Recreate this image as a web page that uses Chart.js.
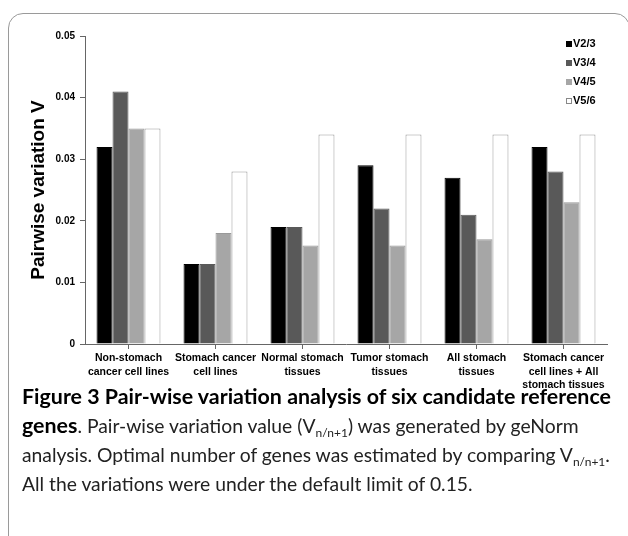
<!DOCTYPE html>
<html>
<head>
<meta charset="utf-8">
<script src="https://cdn.jsdelivr.net/npm/chart.js@4.4.0/dist/chart.umd.min.js"></script>
<style>
  html, body { margin:0; padding:0; background:#fff; }
  body { width:628px; height:536px; position:relative; overflow:hidden; }
  #frame { position:absolute; left:8px; top:13px; width:622px; height:540px; border:1px solid #9a9a9a; border-radius:15px; box-sizing:border-box; }
  #wrap { position:absolute; left:0; top:0; width:628px; height:400px; }
  #legend { position:absolute; left:566px; top:34px; font-family:"Liberation Sans", Arial, sans-serif; font-weight:bold; font-size:11px; color:#000; }
  #legend .item { height:19.1px; line-height:15px; display:flex; align-items:center; }
  #legend .sw { width:6px; height:6px; margin-right:1px; box-sizing:border-box; }
  #caption { position:absolute; left:22px; top:382px; width:606px; font-family:Lato, "Open Sans", sans-serif; color:#222; }
  #caption .l { white-space:nowrap; height:29px; line-height:29px; font-size:19.3px; }
  #caption b { font-weight:bold; font-size:21.4px; color:#000; }
  sub { font-size:12px; vertical-align:-4px; line-height:0; }
</style>
</head>
<body>
<div id="frame"></div>
<div id="wrap"><canvas id="c" width="628" height="400"></canvas></div>
<div id="legend"></div>
<div id="caption">
  <div class="l"><b>Figure 3 Pair-wise variation analysis of six candidate reference</b></div>
  <div class="l"><b>genes</b>. Pair-wise variation value (V<sub>n/n+1</sub>) was generated by geNorm</div>
  <div class="l">analysis. Optimal number of genes was estimated by comparing V<sub>n/n+1</sub>.</div>
  <div class="l">All the variations were under the default limit of 0.15.</div>
</div>
<script>
const categories = [
  ["Non-stomach", "cancer cell lines"],
  ["Stomach cancer", "cell lines"],
  ["Normal stomach", "tissues"],
  ["Tumor stomach", "tissues"],
  ["All stomach", "tissues"],
  ["Stomach cancer", "cell lines + All", "stomach tissues"]
];
const seriesNames = ["V2/3", "V3/4", "V4/5", "V5/6"];
const v23 = [0.032, 0.013, 0.019, 0.029, 0.027, 0.032];
const v34 = [0.041, 0.013, 0.019, 0.022, 0.021, 0.028];
const v45 = [0.035, 0.018, 0.016, 0.016, 0.017, 0.023];
const v56 = [0.035, 0.028, 0.034, 0.034, 0.034, 0.034];
const yTickLabels = ["0", "0.01", "0.02", "0.03", "0.04", "0.05"];

const fills = ["#000000", "#595959", "#a6a6a6", "#ffffff"];
const borders = ["#000000", "#595959", "#999999", "#9a9a9a"];
const seriesValues = [v23, v34, v45, v56];

const datasets = seriesNames.map((name, i) => ({
  label: name,
  data: seriesValues[i],
  backgroundColor: fills[i],
  borderColor: borders[i],
  borderWidth: 1,
  categoryPercentage: 0.735,
  barPercentage: 1.0
}));

// HTML legend
const lg = document.getElementById('legend');
seriesNames.forEach((name, i) => {
  const it = document.createElement('div'); it.className = 'item';
  const sw = document.createElement('span'); sw.className = 'sw';
  sw.style.background = fills[i];
  sw.style.border = '1px solid ' + (i === 3 ? '#888' : fills[i]);
  const tx = document.createElement('span'); tx.textContent = name;
  it.appendChild(sw); it.appendChild(tx); lg.appendChild(it);
});

const tickFont = { family: "'Liberation Sans', Arial, sans-serif", weight: 'bold', size: 10 };

new Chart(document.getElementById('c'), {
  type: 'bar',
  data: { labels: categories, datasets },
  options: {
    responsive: false,
    animation: false,
    layout: { padding: { left: 0, right: 21, top: 36, bottom: 0 } },
    plugins: { legend: { display: false }, tooltip: { enabled: false } },
    scales: {
      x: {
        grid: { drawOnChartArea: false, drawTicks: true, tickLength: 5, color: '#666', offset: false },
        border: { color: '#666', width: 1 },
        ticks: { color: '#000', font: { ...tickFont, size: 10.5, lineHeight: 1.25 }, maxRotation: 0, autoSkip: false, padding: 3 },
        afterFit: s => { s.height = 56; }
      },
      y: {
        min: 0, max: 0.05,
        grid: { drawOnChartArea: false, drawTicks: true, tickLength: 5, color: '#666' },
        border: { color: '#666', width: 1 },
        ticks: { stepSize: 0.01, color: '#000', font: tickFont, padding: 5,
                 callback: (v, i) => yTickLabels[i] },
        title: { display: true, text: 'Pairwise variation V', color: '#000',
                 font: { family: "'Liberation Sans', Arial, sans-serif", weight: 'bold', size: 19, lineHeight: 1.2 },
                 padding: { top: 27, bottom: 0 } },
        afterFit: s => { s.width = 85; }
      }
    }
  }
});
</script>
</body>
</html>
